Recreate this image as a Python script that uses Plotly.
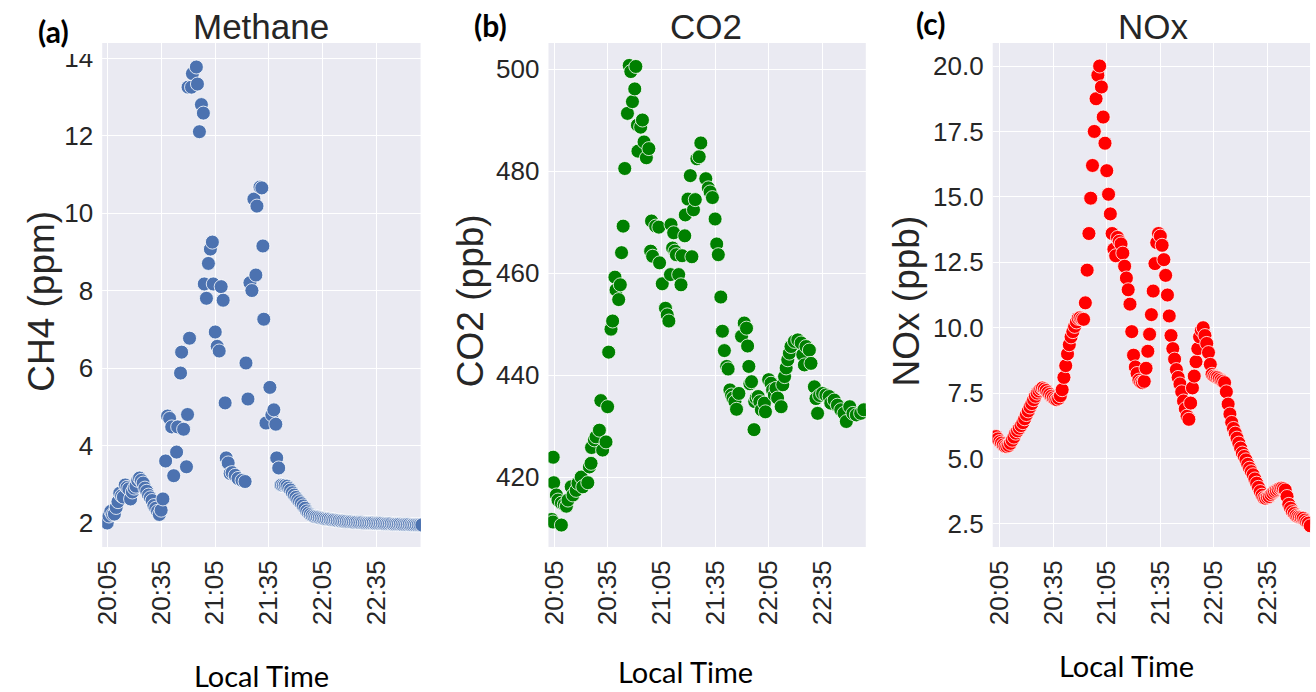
import pandas as pd
import plotly.graph_objects as go

# ---------------- data (minutes after 20:05, value) ----------------
ch4_min = [0, 1, 2, 3, 4, 5, 6, 7, 8, 9, 10, 11, 12, 13, 14, 15, 16, 17, 18, 19, 20,
           21, 22, 23, 24, 25, 26, 27, 28, 29, 30, 31,
           32.5, 33.6, 34.7, 35.9, 37.0, 38.6, 39.2, 40.8, 41.4, 42.5, 44.1, 44.7, 45.0,
           45.8, 46.9, 47.4, 49.6, 50.2, 51.3, 52.4, 53.5, 54.0, 55.2, 56.3, 57.4, 58.5,
           59.0, 60.1, 61.2, 62.3, 63.4, 64.5, 65.6, 66.2, 67.3, 68.4, 69.5, 71.2, 72.8,
           75.0, 76.7, 77.2, 78.3, 79.4, 80.5, 81.6, 82.7, 83.3, 85.0, 86.0, 86.6, 87.1,
           88.3, 90.5, 91.6, 92.7, 93.8, 94.3, 95.4, 96.5,
           97, 98, 99, 100, 101, 102, 103, 104, 105, 106, 107, 108, 109, 110, 111, 112,
           113, 114, 115, 116, 117, 118, 119, 120, 121, 122, 123, 124, 125, 126, 127, 128,
           129, 130, 131, 132, 133, 134, 135, 136, 137, 138, 139, 140, 141, 142, 143, 144,
           145, 146, 147, 148, 149, 150, 151, 152, 153, 154, 155, 156, 157, 158, 159, 160,
           161, 162, 163, 164, 165, 166, 167, 168, 169, 170, 171, 172, 173, 174, 175]
ch4_val = [2.00, 2.18, 2.30, 2.22, 2.23, 2.40, 2.55, 2.77, 2.70, 2.67, 2.98, 2.92, 2.88,
           2.62, 2.80, 2.90, 2.95, 3.10, 3.16, 3.10, 3.03, 2.90, 2.82, 2.72, 2.65, 2.58,
           2.45, 2.38, 2.30, 2.22, 2.33, 2.62,
           3.60, 4.76, 4.70, 4.48, 3.22, 3.83, 4.48, 5.87, 6.41, 4.42, 3.45, 4.80, 13.25,
           6.77, 13.25, 13.60, 13.77, 13.33, 12.10, 12.80, 12.58, 8.17, 7.80, 8.70, 9.07,
           9.25, 8.17, 6.93, 6.56, 6.44, 8.10, 7.75, 5.10, 3.68, 3.55, 3.28, 3.30, 3.23,
           3.15, 3.10, 3.07, 6.13, 5.20, 8.20, 8.00, 10.36, 8.40, 10.18, 10.67, 10.65,
           9.15, 7.26, 4.58, 5.50, 4.79, 4.92, 4.55, 3.68, 3.42, 2.98,
           2.98, 2.97, 2.97, 2.95, 2.90, 2.85, 2.78, 2.72, 2.66, 2.60, 2.55, 2.50, 2.44,
           2.38, 2.31, 2.26, 2.22, 2.19, 2.17, 2.16, 2.15, 2.14, 2.13, 2.12, 2.11, 2.10,
           2.10, 2.09, 2.08, 2.08, 2.07, 2.06, 2.06, 2.05, 2.05, 2.04, 2.04, 2.03, 2.03,
           2.03, 2.02, 2.02, 2.02, 2.01, 2.01, 2.01, 2.00, 2.00, 2.00, 2.00, 2.00, 2.00,
           1.99, 1.99, 1.99, 1.99, 1.99, 1.98, 1.98, 1.98, 1.98, 1.98, 1.97, 1.97, 1.97,
           1.97, 1.97, 1.96, 1.96, 1.96, 1.96, 1.96, 1.95, 1.95, 1.95, 1.95, 1.95, 1.95,
           1.95, 1.95]

co2_min = [-0.7, -0.4, -1.5, -0.8, 1.1, 2.0, 3.9, 3.9, 5.5, 6.7, 7.6, 9.4, 10.4, 12.2,
           13.2, 15.0, 15.9, 18.7, 19.6, 20.5, 20.8, 22.4, 23.3, 25.2, 26.0, 27.0, 28.9,
           29.8, 30.4, 31.7, 32.6, 33.9, 34.5, 36.0, 36.9, 37.6, 38.5, 39.4, 40.9, 41.9,
           42.8, 43.7, 45.0, 45.6, 46.5, 46.8, 48.3, 49.3, 50.2, 51.5, 52.9, 53.9, 54.4,
           55.0, 56.7, 58.5, 58.9, 60.4, 62.2, 63.2, 64.1, 65.0, 65.3, 66.2, 66.8, 67.5,
           68.3, 69.6, 70.9, 71.5, 73.0, 73.3, 74.8, 76.1, 77.0, 77.9, 78.9, 79.8, 81.1,
           82.0, 84.8, 86.2, 87.2, 88.5, 90.0, 90.9, 91.8, 93.2, 94.1, 95.2, 96.5, 97.3,
           98.3, 99.2, 100.0, 101.1, 102.0, 103.3, 104.8, 106.3, 107.6, 108.2, 108.9,
           109.5, 110.4, 111.8, 112.2, 113.0, 114.1, 115.0, 115.9, 117.6, 118.2, 120.0,
           121.3, 122.2, 123.2, 124.1, 125.0, 127.0, 127.9, 128.9, 129.8, 130.7, 131.6,
           132.5, 134.4, 136.3, 138.2, 139.1, 140.0, 140.9, 142.8, 143.7, 145.6, 146.5,
           147.4, 148.5, 150.2, 152.0, 153.9, 154.8, 156.7, 158.5, 160.4, 162.2, 163.5,
           165.4, 167.2, 169.1, 171.5, 173.3]
co2_val = [423.9, 418.9, 411.7, 411.2, 416.5, 415.5, 410.6, 414.9, 414.6, 414.3, 415.5,
           418.1, 416.5, 417.4, 418.8, 420.0, 418.1, 418.9, 422.0, 422.7, 425.8, 427.3,
           427.9, 429.2, 435.0, 425.3, 426.9, 433.8, 444.5, 449.0, 450.6, 459.2, 456.7,
           454.8, 457.7, 464.0, 469.2, 480.5, 491.3, 500.7, 499.5, 493.6, 496.1, 500.5,
           489.0, 483.9, 488.6, 490.0, 485.7, 482.6, 484.4, 464.3, 470.2, 463.3, 469.2,
           469.0, 462.0, 457.9, 453.1, 451.8, 450.6, 459.7, 469.5, 464.9, 467.9, 464.3,
           463.6, 459.7, 457.7, 463.4, 467.3, 471.4, 474.5, 479.1, 463.2, 472.4, 474.4,
           482.4, 482.8, 485.5, 478.5, 476.7, 475.9, 474.8, 470.6, 465.7, 463.6, 455.3,
           448.6, 444.8, 441.7, 441.2, 437.1, 436.1, 435.5, 434.8, 433.3, 436.4, 447.6,
           450.2, 449.2, 445.7, 441.7, 438.3, 438.7, 429.3, 434.8, 435.5, 435.8, 434.8,
           433.2, 434.5, 432.8, 439.1, 438.4, 437.1, 436.1, 437.4, 435.5, 433.8, 438.1,
           439.7, 441.4, 443.0, 444.3, 445.6, 446.6, 446.9, 446.3, 444.0, 442.0, 445.6,
           444.9, 442.3, 437.7, 435.4, 432.5, 436.0, 436.4, 436.1, 435.8, 434.5, 435.1,
           434.1, 433.2, 432.5, 430.9, 433.8, 432.5, 432.2, 432.5, 433.2]

nox_min = [-2, -1, 0, 1, 2, 3, 4, 5, 6, 7, 8, 9, 10, 11, 12, 13, 14, 15, 16, 17, 18, 19,
           20, 21, 22, 23, 24, 25, 26, 27, 28, 29, 30, 31, 32, 33, 34, 35, 36, 37, 38, 39,
           40, 41, 42, 43, 44, 45, 46, 47, 48, 49, 50, 51, 52, 53, 54, 55, 56, 57, 58, 59,
           60, 61, 62, 63, 64, 65, 66, 67, 68, 69, 70, 71, 72, 73, 74, 75, 76, 77, 78, 79,
           80, 81, 82, 83, 84, 85, 86, 87, 88, 89, 90, 91, 92, 93, 94, 95, 96, 97, 98, 99,
           100, 101, 102, 103, 104, 105, 106, 107, 108, 109, 110, 111, 112, 113, 114, 115,
           116, 117, 118, 119, 120, 121, 122, 123, 124, 125, 126, 127, 128, 129, 130, 131,
           132, 133, 134, 135, 136, 137, 138, 139, 140, 141, 142, 143, 144, 145, 146, 147,
           148, 149, 150, 151, 152, 153, 154, 155, 156, 157, 158, 159, 160, 161, 162, 163,
           164, 165, 166, 167, 168, 169, 170, 171, 172, 173, 174]
nox_val = [5.84, 5.75, 5.65, 5.59, 5.52, 5.47, 5.46, 5.50, 5.58, 5.70, 5.82, 5.97, 6.06,
           6.16, 6.26, 6.37, 6.52, 6.68, 6.82, 6.97, 7.10, 7.25, 7.38, 7.50, 7.58, 7.66,
           7.70, 7.66, 7.60, 7.52, 7.45, 7.38, 7.32, 7.27, 7.25, 7.30, 7.40, 7.63, 8.10,
           8.55, 9.00, 9.35, 9.65, 9.85, 10.05, 10.22, 10.36, 10.38, 10.34, 10.32, 10.95,
           12.20, 13.60, 14.95, 16.20, 17.50, 18.75, 19.65, 20.00, 19.20, 18.05, 17.05,
           16.00, 15.10, 14.35, 13.60, 13.00, 12.75, 13.45, 13.30, 13.20, 12.85, 12.35,
           11.90, 11.45, 10.90, 9.85, 8.95, 8.50, 8.25, 8.00, 7.92, 7.90, 7.95, 8.45, 9.10,
           9.75, 10.50, 11.40, 12.45, 13.25, 13.60, 13.50, 13.15, 12.60, 12.00, 11.25,
           10.45, 9.70, 9.20, 8.80, 8.40, 8.10, 7.85, 7.55, 7.20, 6.90, 6.62, 6.50, 7.12,
           7.70, 8.15, 8.70, 9.20, 9.65, 9.90, 10.00, 9.70, 9.40, 9.05, 8.60, 8.22, 8.15,
           8.12, 8.10, 8.05, 8.00, 7.95, 7.90, 7.55, 7.08, 6.70, 6.38, 6.15, 5.97, 5.78,
           5.59, 5.40, 5.21, 5.08, 4.95, 4.78, 4.63, 4.50, 4.38, 4.22, 4.06, 3.90, 3.74,
           3.60, 3.50, 3.48, 3.52, 3.55, 3.62, 3.68, 3.74, 3.78, 3.82, 3.86, 3.87, 3.85,
           3.80, 3.55, 3.25, 3.10, 2.97, 2.90, 2.82, 2.78, 2.76, 2.74, 2.72, 2.65, 2.58,
           2.53, 2.43]

tick_times = ["20:05", "20:35", "21:05", "21:35", "22:05", "22:35"]
titles = ["Methane", "CO2", "NOx"]
ylabels = ["CH4 (ppm)", "CO2 (ppb)", "NOx (ppb)"]
panel_tags = ["(a)", "(b)", "(c)"]
colors = ["#4C72B0", "#008000", "#FF0000"]

# ---------------- helpers ----------------
base = pd.Timestamp("2020-01-01 20:05:00")
def tstamp(m):
    return base + pd.to_timedelta(m, unit="min")

W, H = 1316, 692
def px(x):
    return x / W
def py(y):
    return 1 - y / H

fig = go.Figure()
series = [(ch4_min, ch4_val), (co2_min, co2_val), (nox_min, nox_val)]
for i, (mins, vals) in enumerate(series):
    ax = "" if i == 0 else str(i + 1)
    fig.add_trace(go.Scatter(
        x=[tstamp(m) for m in mins], y=vals, mode="markers",
        marker=dict(size=14, color=colors[i], line=dict(color="white", width=0.8)),
        xaxis="x" + ax, yaxis="y" + ax, showlegend=False, cliponaxis=True))

# panel geometry (pixels)
panels = [
    dict(x0=92, x1=413, xr=(-2.76, 174.3), yr=(1.38, 14.39), ytv=[2, 4, 6, 8, 10, 12, 14], fmt="d"),
    dict(x0=542, x1=862, xr=(-3.33, 174.4), yr=(406.3, 505.1), ytv=[420, 440, 460, 480, 500], fmt="d"),
    dict(x0=990, x1=1310, xr=(-3.9, 173.9), yr=(1.62, 20.88), ytv=[2.5, 5, 7.5, 10, 12.5, 15, 17.5, 20], fmt=".1f"),
]
top, bottom = 43, 547
tickfont = dict(family="Liberation Sans, Arial, sans-serif", size=26, color="#262626")
tick_dates = [pd.Timestamp("2020-01-01 " + t + ":00") for t in tick_times]

layout = dict(width=W, height=H, margin=dict(l=0, r=0, t=0, b=0),
              paper_bgcolor="white", plot_bgcolor="#EAEAF2", showlegend=False)
for i, p in enumerate(panels):
    ax = "" if i == 0 else str(i + 1)
    layout["xaxis" + ax] = dict(
        domain=[px(p["x0"]), px(p["x1"])], anchor="y" + ax, type="date",
        range=[tstamp(p["xr"][0]), tstamp(p["xr"][1])],
        tickvals=tick_dates, ticktext=tick_times, tickangle=-90,
        tickfont=tickfont, showgrid=True, gridcolor="white", gridwidth=1.3,
        zeroline=False, showline=False, ticks="", ticklabelstandoff=7)
    layout["yaxis" + ax] = dict(
        domain=[py(bottom), py(top)], anchor="x" + ax, range=list(p["yr"]),
        tickvals=p["ytv"], tickformat=p["fmt"], tickfont=tickfont,
        showgrid=True, gridcolor="white", gridwidth=1.3, zeroline=False,
        showline=False, ticks="", ticklabelstandoff=8)
fig.update_layout(**layout)

# cover the clipped top of the "14" tick label like the reference crop
fig.add_shape(type="rect", xref="paper", yref="paper", x0=px(30), x1=px(91),
              y0=py(54), y1=1.0, fillcolor="white", line=dict(width=0), layer="above")

title_x = [252, 701, 1152]
ylab_x = [30, 463, 903]
xlab = [(253, 675), (680, 671), (1125, 665)]
tag_pos = [(43, 31), (484, 25), (928, 23)]
for i in range(3):
    fig.add_annotation(text=titles[i], x=px(title_x[i]), y=py(27), xref="paper", yref="paper",
                       showarrow=False, xanchor="center", yanchor="middle",
                       font=dict(family="Liberation Sans, Arial, sans-serif", size=35, color="#262626"))
    fig.add_annotation(text=ylabels[i], x=px(ylab_x[i]), y=py(301), xref="paper", yref="paper",
                       showarrow=False, xanchor="center", yanchor="middle", textangle=-90,
                       font=dict(family="Liberation Sans, Arial, sans-serif", size=37, color="#262626"))
    fig.add_annotation(text="Local Time", x=px(xlab[i][0]), y=py(xlab[i][1]), xref="paper", yref="paper",
                       showarrow=False, xanchor="center", yanchor="middle",
                       font=dict(family="Lato, Noto Sans, sans-serif", size=29, color="black"))
    fig.add_annotation(text="<b>" + panel_tags[i] + "</b>", x=px(tag_pos[i][0]), y=py(tag_pos[i][1]),
                       xref="paper", yref="paper", showarrow=False, xanchor="center", yanchor="middle",
                       font=dict(family="Lato, Noto Sans, sans-serif", size=30, color="black"))

fig.write_html("out.html")
